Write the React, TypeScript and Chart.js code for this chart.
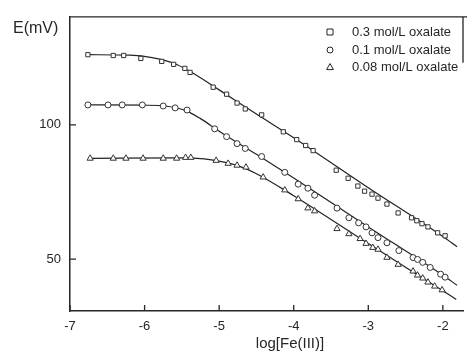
import React, { useEffect, useRef } from "react";
import { Chart, registerables } from "chart.js";

Chart.register(...registerables);

// ---- Data ----
const sqX = [-6.76, -6.42, -6.28, -6.05, -5.77, -5.61, -5.46, -5.39, -5.08, -4.9, -4.76, -4.65, -4.43, -4.14, -3.96, -3.84, -3.74, -3.43, -3.27, -3.14, -3.05, -2.95, -2.87, -2.75, -2.6, -2.42, -2.35, -2.28, -2.2, -2.07, -1.97];
const sqY = [126.1, 125.8, 125.8, 124.7, 123.6, 122.5, 121.0, 119.5, 114.0, 111.4, 108.1, 105.9, 103.7, 97.4, 94.5, 92.3, 90.4, 83.1, 80.1, 77.2, 75.3, 74.2, 72.7, 70.5, 67.2, 65.4, 64.3, 63.2, 62.0, 59.8, 58.7];

const ciX = [-6.76, -6.49, -6.3, -6.03, -5.75, -5.59, -5.43, -5.06, -4.9, -4.76, -4.65, -4.43, -4.12, -3.94, -3.81, -3.72, -3.42, -3.26, -3.13, -3.03, -2.95, -2.87, -2.75, -2.59, -2.4, -2.34, -2.27, -2.17, -2.03, -1.97];
const ciY = [107.4, 107.4, 107.4, 107.4, 107.0, 106.3, 105.5, 98.5, 95.6, 93.0, 91.2, 88.2, 82.3, 77.9, 76.4, 73.8, 69.0, 65.4, 63.5, 62.0, 59.8, 58.0, 56.1, 53.2, 50.6, 49.9, 48.8, 46.9, 44.4, 43.3];

const trX = [-6.73, -6.42, -6.25, -6.02, -5.75, -5.57, -5.45, -5.38, -5.04, -4.88, -4.76, -4.64, -4.41, -4.12, -3.94, -3.81, -3.72, -3.42, -3.26, -3.11, -3.03, -2.94, -2.87, -2.75, -2.6, -2.4, -2.34, -2.27, -2.2, -2.11, -2.01];
const trY = [87.5, 87.5, 87.5, 87.5, 87.5, 87.5, 87.8, 87.8, 86.7, 85.6, 84.9, 84.2, 80.5, 75.7, 72.4, 69.0, 67.9, 61.3, 59.4, 57.6, 55.8, 54.3, 53.6, 50.6, 48.0, 45.5, 44.0, 42.9, 41.4, 39.9, 38.5];

// fitted curves (knots)
const sqFitX = [-6.76, -6.2, -5.9, -5.6, -5.4, -5.0, -4.5, -4.0, -3.0, -2.0, -1.81];
const sqFitY = [126.1, 125.9, 125.0, 122.8, 120.0, 113.0, 104.0, 95.2, 76.6, 58.4, 54.6];
const ciFitX = [-6.76, -6.0, -5.7, -5.45, -5.25, -5.0, -4.5, -4.0, -3.0, -2.0, -1.81];
const ciFitY = [107.4, 107.3, 106.9, 105.3, 102.3, 97.6, 89.0, 80.2, 62.0, 44.0, 40.3];
const trFitX = [-6.73, -5.5, -5.2, -4.95, -4.75, -4.5, -4.0, -3.0, -2.0, -1.82];
const trFitY = [87.5, 87.7, 87.3, 86.2, 84.8, 81.8, 73.6, 55.8, 38.2, 35.0];

const seriesLabels = ["0.3 mol/L oxalate", "0.1 mol/L oxalate", "0.08 mol/L oxalate"];
const xTicks = [-7, -6, -5, -4, -3, -2];
const yTicks = [50, 100];

const FONT = "'Liberation Sans', Arial, sans-serif";
const INK = "#262626";

const pts = (xs: number[], ys: number[]) => xs.map((x, i) => ({ x, y: ys[i] }));

function drawMarker(ctx: CanvasRenderingContext2D, style: string, x: number, y: number, r: number) {
  ctx.beginPath();
  if (style === "rect") {
    ctx.rect(x - r, y - r, 2 * r, 2 * r);
  } else if (style === "circle") {
    ctx.arc(x, y, r, 0, Math.PI * 2);
  } else {
    const h = r * 1.15;
    ctx.moveTo(x, y - h);
    ctx.lineTo(x + h, y + h * 0.75);
    ctx.lineTo(x - h, y + h * 0.75);
    ctx.closePath();
  }
  ctx.fillStyle = "#fff";
  ctx.fill();
  ctx.stroke();
}

const overlay = {
  id: "overlay",
  afterDraw(chart: any) {
    const { ctx, chartArea } = chart;
    const xs = chart.scales.x;
    const ys = chart.scales.y;
    ctx.save();
    ctx.strokeStyle = INK;
    ctx.lineWidth = 1.3;
    // inward ticks
    ctx.beginPath();
    xTicks.forEach((v) => {
      const px = xs.getPixelForValue(v);
      ctx.moveTo(px, chartArea.bottom);
      ctx.lineTo(px, chartArea.bottom - 6);
    });
    yTicks.forEach((v) => {
      const py = ys.getPixelForValue(v);
      ctx.moveTo(chartArea.left, py);
      ctx.lineTo(chartArea.left + 6, py);
    });
    // top frame line and partial right line
    ctx.moveTo(chartArea.left, chartArea.top);
    ctx.lineTo(chartArea.right + 4, chartArea.top);
    ctx.moveTo(chartArea.right, chartArea.top);
    ctx.lineTo(chartArea.right, chartArea.top + 46);
    ctx.stroke();

    // axis titles
    ctx.fillStyle = INK;
    ctx.textBaseline = "middle";
    ctx.textAlign = "left";
    ctx.font = `16px ${FONT}`;
    ctx.fillText("E(mV)", 13, 29);
    ctx.textAlign = "center";
    ctx.font = `15px ${FONT}`;
    ctx.fillText("log[Fe(III)]", 290, 344);

    // legend
    const styles = ["rect", "circle", "triangle"];
    const rowsY = [32, 50, 67];
    ctx.lineWidth = 1;
    ctx.strokeStyle = INK;
    ctx.font = `13px ${FONT}`;
    ctx.textAlign = "left";
    styles.forEach((s, i) => {
      drawMarker(ctx, s, 330, rowsY[i], 3);
      ctx.fillStyle = INK;
      ctx.fillText(seriesLabels[i], 352, rowsY[i]);
    });
    ctx.restore();
  },
};

export default function App() {
  const ref = useRef<HTMLCanvasElement | null>(null);

  useEffect(() => {
    if (!ref.current) return;
    Chart.defaults.font.family = FONT;
    const lineDs = (xs: number[], ys: number[]) => ({
      type: "line" as const,
      data: pts(xs, ys),
      borderColor: "#222",
      borderWidth: 1.2,
      pointRadius: 0,
      cubicInterpolationMode: "monotone" as const,
      fill: false,
      order: 2,
    });
    const markDs = (xs: number[], ys: number[], style: string, label: string) => ({
      type: "scatter" as const,
      label,
      data: pts(xs, ys),
      pointStyle: style,
      pointRadius: style === "triangle" ? 3.6 : 3,
      backgroundColor: "#ffffff",
      borderColor: "#333",
      borderWidth: 1,
      showLine: false,
      order: 1,
    });

    const chart = new Chart(ref.current, {
      type: "scatter",
      data: {
        datasets: [
          lineDs(sqFitX, sqFitY),
          lineDs(ciFitX, ciFitY),
          lineDs(trFitX, trFitY),
          markDs(sqX, sqY, "rect", seriesLabels[0]),
          markDs(ciX, ciY, "circle", seriesLabels[1]),
          markDs(trX, trY, "triangle", seriesLabels[2]),
        ] as any,
      },
      options: {
        responsive: false,
        animation: false,
        events: [],
        layout: { padding: { top: 14, right: 5, left: 0, bottom: 0 } },
        plugins: { legend: { display: false }, tooltip: { enabled: false } },
        scales: {
          x: {
            type: "linear",
            min: -7,
            max: -1.73,
            afterBuildTicks: (s: any) => {
              s.ticks = xTicks.map((v) => ({ value: v }));
            },
            afterFit: (s: any) => {
              s.height = 45;
            },
            grid: { drawOnChartArea: false, drawTicks: false },
            border: { display: true, color: INK, width: 1.5 },
            ticks: {
              padding: 8,
              color: INK,
              font: { size: 13, family: FONT },
              maxRotation: 0,
              callback: (v: any) => String(v),
            },
          },
          y: {
            type: "linear",
            min: 30.7,
            max: 140.2,
            afterBuildTicks: (s: any) => {
              s.ticks = yTicks.map((v) => ({ value: v }));
            },
            afterFit: (s: any) => {
              s.width = 70;
            },
            grid: { drawOnChartArea: false, drawTicks: false },
            border: { display: true, color: INK, width: 1.5 },
            ticks: {
              padding: 9,
              color: INK,
              font: { size: 13, family: FONT },
              callback: (v: any) => String(v),
            },
          },
        },
      },
      plugins: [overlay],
    });
    return () => chart.destroy();
  }, []);

  return (
    <div style={{ position: "fixed", left: 0, top: 0, width: 468, height: 356, background: "#fff" }}>
      <canvas ref={ref} width={468} height={356} style={{ width: 468, height: 356, display: "block" }} />
    </div>
  );
}
